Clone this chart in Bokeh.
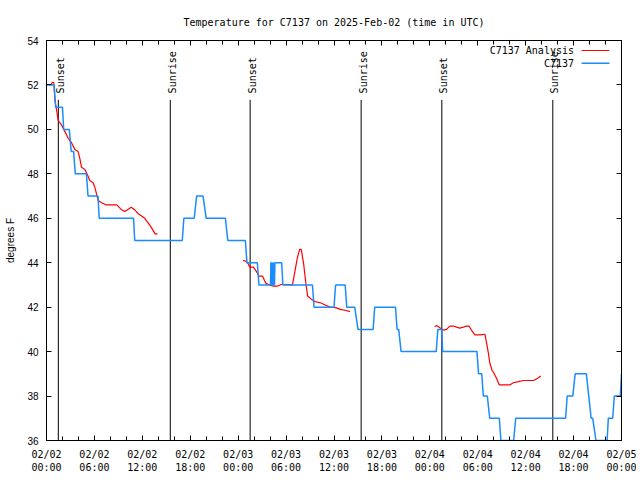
import math
from bokeh.plotting import figure
from bokeh.models import FixedTicker, LinearAxis, Range1d
from bokeh.core.properties import value
from bokeh.embed import file_html
from bokeh.resources import INLINE

title_text = "Temperature for C7137 on 2025-Feb-02 (time in UTC)"
y_label = "degrees F"
analysis_name = "C7137 Analysis"
obs_name = "C7137"

# hours since 2025-02-02 00:00 UTC
analysis_hours_1 = [0.6, 0.75, 0.92, 1.05, 1.25, 1.46, 1.88, 2.3, 2.72, 3.13, 3.55, 3.96, 4.17, 4.38, 4.8,
                    5.2, 5.4, 5.84, 6.05, 6.26, 6.47, 6.9, 7.5, 8.1, 8.8, 9.35, 9.8, 10.2, 10.6, 11.0,
                    11.5, 11.9, 12.3, 12.7, 13.1, 13.6, 13.9]
analysis_temps_1 = [52.05, 52.12, 52.1, 51.3, 50.9, 50.4, 50.2, 49.9, 49.6, 49.4, 49.1, 49.0, 48.7, 48.3, 48.2,
                    47.9, 47.7, 47.6, 47.4, 47.1, 46.8, 46.7, 46.6, 46.6, 46.6, 46.4, 46.3, 46.4, 46.5, 46.4,
                    46.2, 46.1, 46.0, 45.8, 45.6, 45.3, 45.3]
analysis_hours_2 = [24.6, 24.95, 25.25, 25.45, 25.9, 26.3, 26.6, 27.05, 27.3, 27.5, 27.9, 28.4, 28.95, 29.4,
                    30.2, 30.8, 31.1, 31.4, 31.7, 31.9, 32.2, 32.5, 32.7, 33.2, 33.6, 34.3, 34.9, 35.5,
                    36.2, 36.8, 37.5, 38.0]
analysis_temps_2 = [44.1, 44.07, 43.95, 43.8, 43.8, 43.6, 43.4, 43.4, 43.2, 43.07, 43.0, 42.95, 42.95, 43.02,
                    43.02, 43.0, 43.6, 44.2, 44.6, 44.6, 43.95, 43.0, 42.5, 42.35, 42.25, 42.2, 42.1, 42.0,
                    41.98, 41.9, 41.85, 41.8]
analysis_hours_3 = [48.6, 48.9, 49.3, 49.7, 50.1, 50.5, 50.95, 51.35, 51.75, 52.2, 52.6, 52.9, 53.2, 53.65,
                    54.3, 54.9, 55.1, 55.35, 55.5, 55.8, 56.0, 56.35, 56.7, 57.4, 58.0, 58.45, 59.1, 59.7,
                    60.3, 61.0, 61.5, 61.9]
analysis_temps_3 = [41.13, 41.17, 41.06, 40.97, 41.0, 41.15, 41.15, 41.1, 41.06, 41.1, 41.15, 41.15, 40.97, 40.75,
                    40.75, 40.78, 40.4, 39.9, 39.5, 39.15, 39.05, 38.8, 38.5, 38.5, 38.5, 38.6, 38.65, 38.7,
                    38.7, 38.7, 38.8, 38.9]

obs_hours = [0.0, 0.95, 1.15, 2.0, 2.15, 2.85, 3.1, 3.4, 3.6, 5.0, 5.2, 6.45, 6.6, 10.9, 11.05, 17.0, 17.2,
             18.5, 18.8, 19.6, 20.0, 22.4, 22.7, 24.9, 25.1, 26.4, 26.6, 28.05, 28.1, 28.15, 28.2, 28.3,
             28.35, 28.4, 28.45, 28.55, 28.6, 29.45, 29.6, 33.3, 33.5, 36.0, 36.2, 37.4, 37.6, 38.6, 39.0,
             40.9, 41.1, 43.7, 43.9, 44.1, 44.4, 48.8, 49.0, 49.5, 49.6, 53.9, 54.1, 54.5, 54.7, 55.2, 55.5,
             56.7, 56.9, 58.5, 58.75, 65.0, 65.2, 65.9, 66.2, 67.6, 67.9, 68.2, 68.4, 68.8, 70.2, 70.35,
             70.9, 71.1, 71.85, 72.0]
obs_temps = [52, 52, 51, 51, 50, 50, 49, 49, 48, 48, 47, 47, 46, 46, 45, 45, 46,
             46, 47, 47, 46, 46, 45, 45, 44, 44, 43, 43, 44, 44, 43, 43,
             44, 44, 43, 43, 44, 44, 43, 43, 42, 42, 43, 43, 42, 42, 41,
             41, 42, 42, 41, 41, 40, 40, 41, 41, 40, 40, 39, 39, 38, 38, 37,
             37, 36, 36, 37, 37, 38, 38, 39, 39, 38, 37, 37, 36, 36, 37,
             37, 38, 38, 39]

sun_event_hours = [1.48, 15.5, 25.5, 39.4, 49.5, 63.4]
sun_event_names = ["Sunset", "Sunrise", "Sunset", "Sunrise", "Sunset", "Sunrise"]

x_tick_hours = [0, 6, 12, 18, 24, 30, 36, 42, 48, 54, 60, 66, 72]
x_tick_labels = ["02/02\n00:00", "02/02\n06:00", "02/02\n12:00", "02/02\n18:00",
                 "02/03\n00:00", "02/03\n06:00", "02/03\n12:00", "02/03\n18:00",
                 "02/04\n00:00", "02/04\n06:00", "02/04\n12:00", "02/04\n18:00",
                 "02/05\n00:00"]
x_minor_hours = list(range(0, 73, 2))
y_ticks = [36, 38, 40, 42, 44, 46, 48, 50, 52, 54]

RED = "#ff0000"
BLUE = "#1a8cff"
MONO = "DejaVu Sans Mono"
SANS = "Liberation Sans"

p = figure(width=636, height=476, output_backend="svg", toolbar_location=None,
           x_range=Range1d(0, 72), y_range=Range1d(36, 54),
           min_border_left=46, min_border_right=15, min_border_top=40, min_border_bottom=36)
p.title.text = title_text
p.title.align = "center"
p.title.text_font = MONO
p.title.text_font_size = "10px"
p.title.text_font_style = "normal"
p.title.text_color = "black"
p.title.standoff = 25
p.grid.visible = False
p.background_fill_color = "white"
p.border_fill_color = "white"
p.outline_line_color = "black"
p.outline_line_alpha = 1.0

xt = FixedTicker(ticks=x_tick_hours, minor_ticks=x_minor_hours)
yt = FixedTicker(ticks=y_ticks, minor_ticks=[])

xa = p.xaxis[0]
xa.ticker = xt
xa.major_label_overrides = {h: lab for h, lab in zip(x_tick_hours, x_tick_labels)}
xa.major_label_text_font = MONO
xa.major_label_text_font_size = "10px"
xa.major_label_text_color = "black"
xa.major_label_standoff = 8
xa.major_tick_in = 5
xa.major_tick_out = 0
xa.minor_tick_in = 4
xa.minor_tick_out = 0
xa.axis_line_color = "black"

ya = p.yaxis[0]
ya.ticker = yt
ya.axis_label = y_label
ya.axis_label_text_font = SANS
ya.axis_label_text_font_size = "10px"
ya.axis_label_text_font_style = "normal"
ya.axis_label_text_color = "black"
ya.axis_label_standoff = 8
ya.major_label_text_font = SANS
ya.major_label_text_font_size = "10px"
ya.major_label_text_color = "black"
ya.major_label_standoff = 8
ya.major_tick_in = 5
ya.major_tick_out = 0
ya.axis_line_color = "black"

top = LinearAxis(ticker=xt, major_label_overrides={h: "" for h in x_tick_hours},
                 major_label_standoff=0, major_tick_in=5, major_tick_out=0,
                 minor_tick_in=4, minor_tick_out=0)
right = LinearAxis(ticker=yt, major_label_overrides={t: "" for t in y_ticks},
                   major_label_standoff=0, major_tick_in=5, major_tick_out=0,
                   minor_tick_in=0, minor_tick_out=0)
p.add_layout(top, "above")
p.add_layout(right, "right")

# sunrise / sunset markers
p.segment(x0=sun_event_hours, y0=[36] * len(sun_event_hours), x1=sun_event_hours,
          y1=[51.33] * len(sun_event_hours), line_color="black", line_width=1)
p.text(x=sun_event_hours, y=[51.62] * len(sun_event_hours), text=sun_event_names,
       angle=math.pi / 2, text_font=value(MONO), text_font_size="10px",
       text_align="left", text_baseline="middle", x_offset=2, text_color="black")

# data
for hh, tt in ((analysis_hours_1, analysis_temps_1), (analysis_hours_2, analysis_temps_2),
               (analysis_hours_3, analysis_temps_3)):
    p.line(hh, tt, line_color=RED, line_width=1.2)
p.line(obs_hours, obs_temps, line_color=BLUE, line_width=1.5)

# key (text left of sample line, as in the original)
p.text(x=[66.05, 66.05], y=[53.55, 52.98], text=[analysis_name, obs_name],
       text_font=value(MONO), text_font_size="10px", text_align="right",
       text_baseline="middle", text_color="black")
p.segment(x0=[67.0], y0=[53.55], x1=[70.5], y1=[53.55], line_color=RED, line_width=1.2)
p.segment(x0=[67.0], y0=[52.98], x1=[70.5], y1=[52.98], line_color=BLUE, line_width=1.5)

open("out.html", "w").write(file_html(p, INLINE))
